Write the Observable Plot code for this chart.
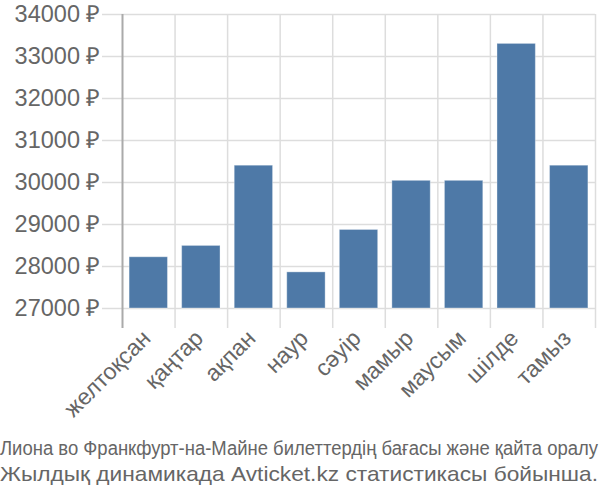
<!DOCTYPE html>
<html>
<head>
<meta charset="utf-8">
<script src="https://cdn.jsdelivr.net/npm/d3@7"></script>
<script src="https://cdn.jsdelivr.net/npm/@observablehq/plot@0.6"></script>
<style>
  body { margin: 0; background: #fff; }
  #chart svg { display: block; }
  .cap { font-family: "Liberation Sans", Arial, sans-serif; color: #666; white-space: nowrap; }
  .cap span { display: inline-block; transform-origin: 0 50%; }
  .cap1 { font-size: 20px; line-height: 24px; margin-top: 6px; }
  .cap2 { font-size: 21px; line-height: 28px; }
</style>
</head>
<body>
<div id="chart"></div>
<div class="cap cap1"><span>Лиона во Франкфурт-на-Майне билеттердің бағасы және қайта оралу</span></div>
<div class="cap cap2"><span>Жылдық динамикада Avticket.kz статистикасы бойынша.</span></div>
<script>
const months = ["желтоқсан", "қаңтар", "ақпан", "наур", "сәуір", "мамыр", "маусым", "шілде", "тамыз"];
const prices = [28220, 28490, 30400, 27860, 28870, 30040, 30040, 33300, 30400];
const yTicks = [27000, 28000, 29000, 30000, 31000, 32000, 33000, 34000];

const data = months.map((m, i) => ({month: m, i, price: prices[i]}));
const boundaries = d3.range(months.length + 1);

const chart = Plot.plot({
  width: 600,
  height: 430,
  marginLeft: 122,
  marginRight: 5,
  marginTop: 14,
  marginBottom: 122,
  style: {fontFamily: "Liberation Sans, Arial, sans-serif", color: "#666", background: "#fff"},
  x: {domain: [0, months.length], label: null},
  y: {domain: [27000, 34000], label: null},
  marks: [
    Plot.ruleY(yTicks, {stroke: "#ddd", strokeWidth: 1.5, insetLeft: -20}),
    Plot.ruleX(boundaries.slice(1), {y1: 34000, y2: 27000, stroke: "#ddd", strokeWidth: 1.5, insetBottom: -20}),
    Plot.ruleX([0], {y1: 34000, y2: 27000, stroke: "#aaa", strokeWidth: 2, insetBottom: -20}),
    Plot.rectY(data, {x1: d => d.i + 0.135, x2: d => d.i + 0.865, y1: 27000, y2: "price", fill: "#4e79a7", stroke: "#fff", strokeOpacity: 0.35, strokeWidth: 1}),
    Plot.axisY({ticks: yTicks, tickSize: 0, tickPadding: 22, tickFormat: d => d + " ₽", fontSize: 23.5, fill: "#666", label: null}),
    Plot.axisX({ticks: data.map(d => d.i + 0.5), tickSize: 0, tickRotate: -45, tickPadding: 26, dx: -2, tickFormat: v => months[Math.floor(v)], fontSize: 23, fill: "#666", label: null})
  ]
});
document.getElementById("chart").appendChild(chart);
document.querySelectorAll(".cap span").forEach(s => {
  const w = s.getBoundingClientRect().width;
  s.style.transform = `scaleX(${598 / w})`;
});
</script>
</body>
</html>
